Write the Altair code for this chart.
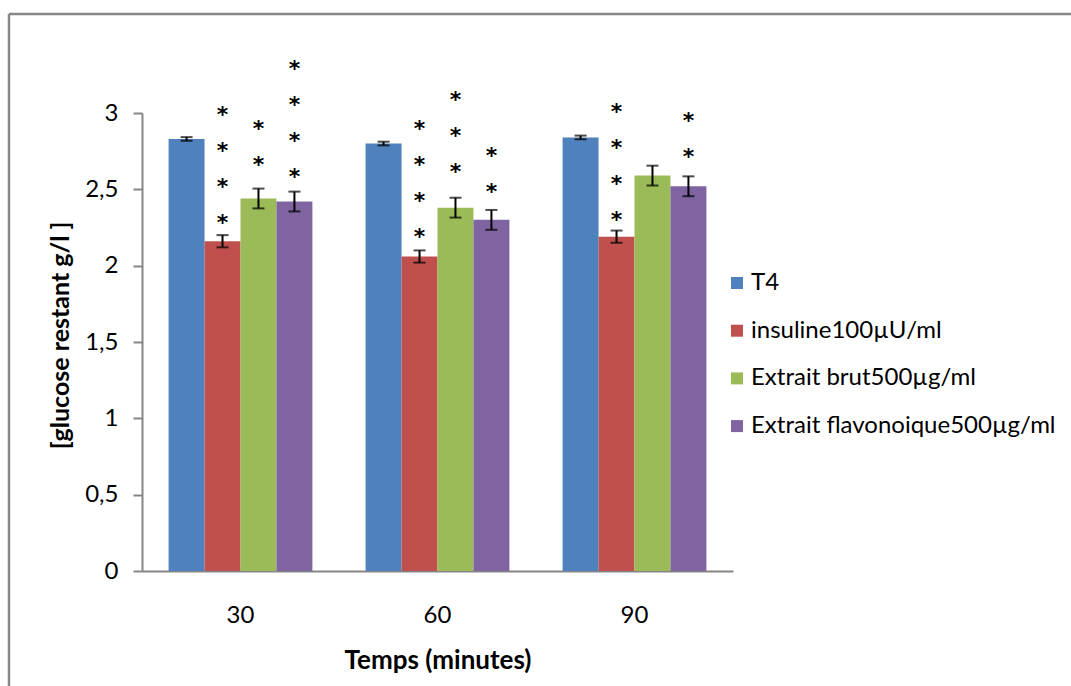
import altair as alt
import pandas as pd

# categories
times = ["30", "60", "90"]
groups = ["T4", "insuline100µU/ml", "Extrait brut500µg/ml", "Extrait flavonoique500µg/ml"]
colors = ["#4F81BD", "#C0504D", "#9BBB59", "#8064A2"]

# mean remaining glucose (g/l) at 30, 60, 90 minutes
t4 = [2.83, 2.80, 2.84]
insuline = [2.16, 2.06, 2.19]
brut = [2.44, 2.38, 2.59]
flavo = [2.42, 2.30, 2.52]

# error (±) per bar
t4_err = [0.012, 0.012, 0.012]
insuline_err = [0.04, 0.04, 0.04]
brut_err = [0.065, 0.065, 0.065]
flavo_err = [0.065, 0.065, 0.065]

# significance: number of asterisks and level of the lowest one
t4_stars = [0, 0, 0]
insuline_stars = [4, 4, 4]
brut_stars = [2, 3, 0]
flavo_stars = [4, 2, 2]
t4_star_at = [0, 0, 0]
insuline_star_at = [2.32, 2.23, 2.34]
brut_star_at = [2.70, 2.65, 0]
flavo_star_at = [2.62, 2.52, 2.75]

series = [
    (t4, t4_err, t4_stars, t4_star_at),
    (insuline, insuline_err, insuline_stars, insuline_star_at),
    (brut, brut_err, brut_stars, brut_star_at),
    (flavo, flavo_err, flavo_stars, flavo_star_at),
]

rows = []
for g, (vals, errs, nstars, star_at) in zip(groups, series):
    for t, v, e, n, s in zip(times, vals, errs, nstars, star_at):
        rows.append({
            "time": t, "group": g, "value": v,
            "lo": v - e, "hi": v + e,
            "star_at": s, "n": n,
        })
df = pd.DataFrame(rows)

FONT = "Lato"
AXIS_GRAY = "#868686"
STAR_GAP = 36  # vertical spacing between stacked asterisks (px)

x = alt.X(
    "time:N", sort=times, title="Temps (minutes)",
    scale=alt.Scale(paddingInner=0.27, paddingOuter=0.135),
    axis=alt.Axis(
        labelAngle=0, ticks=False, tickSize=0, labelPadding=32,
        labelFontSize=24, labelColor="black", domainColor=AXIS_GRAY, domainWidth=2,
        titleFontSize=26, titleFontWeight="bold", titleColor="black",
        titleY=97, titleBaseline="alphabetic",
    ),
)
xo = alt.XOffset("group:N", sort=groups, scale=alt.Scale(paddingInner=0, paddingOuter=0))

base = alt.Chart(df)

bars = base.mark_bar().encode(
    x=x,
    xOffset=xo,
    y=alt.Y(
        "value:Q", title="[glucose restant g/l ]",
        scale=alt.Scale(domain=[0, 3], nice=False),
        axis=alt.Axis(
            values=[0, 0.5, 1, 1.5, 2, 2.5, 3],
            labelExpr="replace(format(datum.value, '~r'), '.', ',')",
            grid=False, tickSize=9, tickColor=AXIS_GRAY, tickWidth=2,
            domainColor=AXIS_GRAY, domainWidth=2, labelPadding=15,
            labelFontSize=24, labelColor="black",
            titleFontSize=25, titleFontWeight="bold", titleColor="black",
            titleX=-82, titleY=222, titleBaseline="middle", titleAngle=270,
        ),
    ),
    color=alt.Color(
        "group:N", sort=groups,
        scale=alt.Scale(domain=groups, range=colors),
        legend=alt.Legend(
            title=None, orient="none", legendX=583, legendY=158,
            symbolType="square", symbolSize=144, symbolStrokeWidth=0,
            labelFontSize=24, labelColor="black", rowPadding=23.7,
            labelOffset=2, padding=0, labelLimit=500,
        ),
    ),
)

err_line = base.mark_rule(color="black", strokeWidth=2).encode(
    x=x, xOffset=xo, y="lo:Q", y2="hi:Q",
)
err_lo = base.mark_tick(color="black", thickness=2, size=12, orient="horizontal").encode(
    x=x, xOffset=xo, y="lo:Q",
)
err_hi = base.mark_tick(color="black", thickness=2, size=12, orient="horizontal").encode(
    x=x, xOffset=xo, y="hi:Q",
)

# asterisks stacked upward from the lowest one
star_layers = [
    base.transform_filter(f"datum.n > {i}").mark_text(
        text="*", baseline="middle", font="DejaVu Sans", fontWeight="bold",
        fontSize=22, color="black", dy=6 - STAR_GAP * i,
    ).encode(x=x, xOffset=xo, y="star_at:Q")
    for i in range(4)
]

# frame around the figure (top and left edges)
frame_df = pd.DataFrame({"k": [0]})
frame_top = alt.Chart(frame_df).mark_rule(color="#878787", strokeWidth=2.5).encode(
    x=alt.value(-133), x2=alt.value(929), y=alt.value(-99),
)
frame_left = alt.Chart(frame_df).mark_rule(color="#878787", strokeWidth=2.5).encode(
    x=alt.value(-133), y=alt.value(-99), y2=alt.value(573),
)

chart = alt.layer(
    bars, err_line, err_lo, err_hi, *star_layers, frame_top, frame_left
).properties(
    width=591, height=458,
    autosize=alt.AutoSizeParams(type="none"),
    padding={"left": 142, "top": 113, "right": 338, "bottom": 115},
).configure(
    font=FONT,
).configure_view(stroke=None)

chart.save("out.html", embed_options={"renderer": "svg", "actions": False})
